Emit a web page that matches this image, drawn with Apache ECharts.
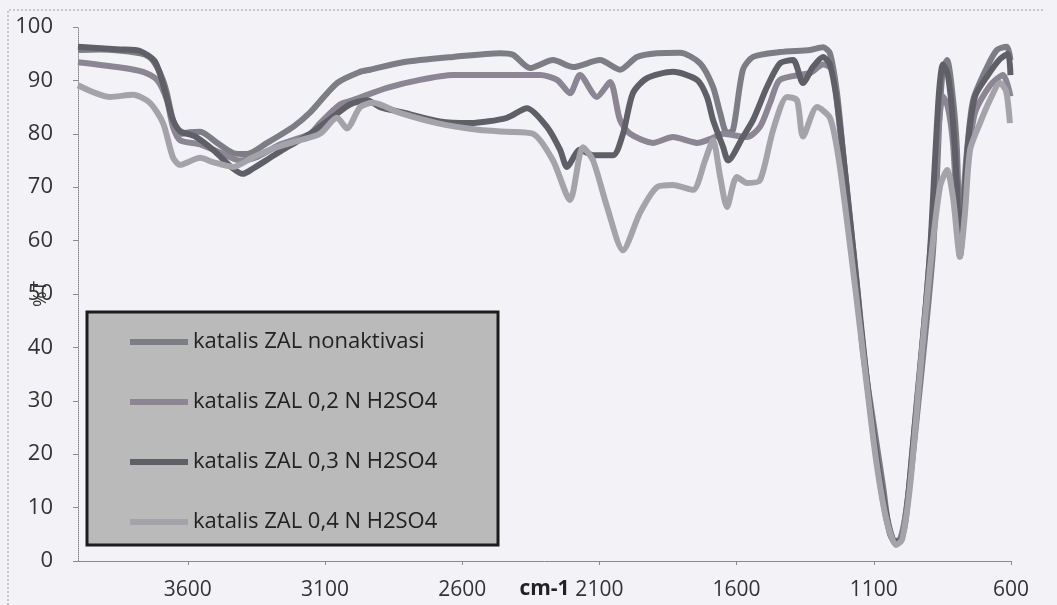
<!DOCTYPE html>
<html>
<head>
<meta charset="utf-8">
<script src="https://cdn.jsdelivr.net/npm/echarts@6/dist/echarts.min.js"></script>
<style>
html,body{margin:0;padding:0;background:#f3f3f7;}
#chart{width:1057px;height:605px;}
</style>
</head>
<body>
<div id="chart"></div>
<script>
const seriesNames = ['katalis ZAL nonaktivasi', 'katalis ZAL 0,2 N H2SO4', 'katalis ZAL 0,3 N H2SO4', 'katalis ZAL 0,4 N H2SO4'];
const xTickValues = [3600, 3100, 2600, 2100, 1600, 1100, 600];
const yTickMin = 0, yTickMax = 100, yTickStep = 10;

// [wavenumber cm-1, %T]
const nonaktivasi = [[4000,95.7],[3920,95.8],[3774,95.1],[3738,94.3],[3712,92.5],[3690,90],[3676,87.6],[3654,82.6],[3628,80],[3592,80.3],[3555,80.4],[3493,78.3],[3435,76.4],[3384,76.2],[3311,78.3],[3216,81.3],[3154,84],[3056,89.5],[2972,91.6],[2936,92],[2816,93.4],[2633,94.4],[2462,95.1],[2415,94.8],[2353,92.3],[2269,93.8],[2196,92.5],[2098,93.8],[2025,92],[1963,94.4],[1890,95.1],[1806,95.2],[1733,93.2],[1686,88.8],[1660,83.9],[1635,80.1],[1613,80.7],[1577,92],[1540,94.4],[1442,95.3],[1332,95.7],[1285,96.2],[1260,95.1],[1234,87.6],[1212,76.4],[1187,63.9],[1161,51.3],[1139,39],[1103,26.4],[1066,13.9],[1041,5],[1015,3.2],[994,5.5],[968,15],[943,27],[906,45.7],[884,58.2],[870,72],[859,85],[848,92],[833,93.8],[811,86.3],[797,77],[786,60],[771,70],[760,77],[738,86.3],[687,92.5],[651,95.7],[615,96.3],[602,93.8]];

const zal02 = [[4000,93.4],[3858,92.5],[3763,91.6],[3712,90.1],[3676,86.3],[3654,81.3],[3628,78.8],[3555,78],[3483,76.5],[3410,75],[3355,75.5],[3264,78],[3154,80],[3118,82],[3045,85.5],[2998,86.3],[2874,88.6],[2754,90.1],[2633,91],[2462,91],[2316,91],[2254,90.1],[2207,87.6],[2171,91],[2109,86.9],[2061,89.7],[2025,82.6],[1988,80],[1905,78.3],[1832,79.4],[1744,78.3],[1697,79],[1649,80],[1562,79.4],[1515,81.3],[1478,85.8],[1442,90.1],[1332,91.4],[1285,93],[1252,92],[1230,84],[1201,70],[1165,52],[1128,35],[1092,20],[1055,8],[1023,3.5],[1001,4.5],[975,12],[943,30],[910,48],[884,65],[866,80],[848,87],[830,85],[811,78],[793,63],[779,62],[760,74],[731,84],[677,89],[629,91],[602,87]];

const zal03 = [[4000,96.3],[3847,95.8],[3774,95.5],[3719,93.5],[3683,88],[3657,83],[3628,80.5],[3574,79.5],[3508,77],[3435,73.5],[3399,72.5],[3362,73.5],[3300,75.5],[3238,77.5],[3154,80],[3063,83.5],[3009,85.5],[2947,86.3],[2899,85],[2816,84],[2681,82.3],[2571,82],[2437,83],[2364,84.8],[2291,81.3],[2243,77],[2218,73.8],[2171,77],[2123,76],[2050,76],[2014,80],[1978,87.6],[1927,90.4],[1832,91.6],[1744,90.1],[1708,86.9],[1686,82.6],[1649,77.5],[1631,75],[1577,79.4],[1540,82.6],[1489,88.8],[1442,93.2],[1394,93.8],[1358,89.5],[1322,92.5],[1285,94.4],[1260,93],[1234,86],[1205,73],[1168,55],[1132,37],[1096,22],[1059,10],[1030,4],[1008,3.5],[986,7],[957,22],[924,40],[895,58],[877,75],[862,88],[848,93],[830,91],[811,82],[797,70],[786,57],[771,66],[757,78],[731,87],[684,91],[640,94],[611,95],[602,91]];

const zal04 = [[4000,89.1],[3883,86.9],[3799,87.3],[3738,85.8],[3690,82],[3654,75.6],[3628,74.2],[3555,75.5],[3508,74.7],[3435,73.8],[3362,75.6],[3275,77.5],[3191,78.8],[3118,80],[3056,83],[3020,81],[2972,85],[2925,85.8],[2827,83.9],[2692,82],[2535,80.7],[2437,80.4],[2342,80],[2269,75],[2207,67.6],[2160,77.5],[2123,75],[2072,66.3],[2014,58.2],[1952,65.2],[1890,70],[1832,70.4],[1759,69.5],[1715,75],[1686,78.8],[1660,72],[1635,66.3],[1599,71.9],[1562,70.8],[1515,71.3],[1467,80.7],[1416,86.9],[1380,86.3],[1358,79.5],[1307,85],[1260,83],[1230,76],[1201,65],[1165,50],[1128,34],[1092,19],[1055,8],[1019,3],[997,4],[968,14],[932,35],[895,55],[859,70],[833,73.2],[811,68],[786,57],[768,65],[749,77],[713,82],[677,86.3],[640,89.5],[618,88],[604,82]];

const seriesData = [nonaktivasi, zal02, zal03, zal04];
const seriesColors = ['#7d7d85', '#8b8594', '#5f5f67', '#a3a3a9'];

const chart = echarts.init(document.getElementById('chart'), null, {renderer: 'canvas'});
const labelFont = 'Open Sans';
chart.setOption({
  backgroundColor: '#f3f3f7',
  animation: false,
  grid: {left: 78, right: 46, top: 27, bottom: 44, containLabel: false},
  xAxis: {
    type: 'value',
    inverse: true,
    min: 600,
    max: 4000,
    name: 'cm-1',
    nameLocation: 'middle',
    nameGap: 18,
    nameMoveOverlap: false,
    nameTextStyle: {fontFamily: labelFont, fontSize: 21, fontWeight: 'bold', color: '#222'},
    splitLine: {show: false},
    axisLine: {show: true, lineStyle: {color: '#8a8a8a', width: 1}},
    axisTick: {show: true, customValues: xTickValues, length: 4, lineStyle: {color: '#8a8a8a'}},
    axisLabel: {customValues: xTickValues, formatter: v => String(v), margin: 19, fontFamily: labelFont, fontSize: 21, color: '#333'}
  },
  yAxis: {
    type: 'value',
    min: yTickMin,
    max: yTickMax,
    interval: yTickStep,
    name: '%T',
    nameLocation: 'middle',
    nameGap: 28,
    nameMoveOverlap: false,
    nameRotate: 90,
    nameTextStyle: {fontFamily: labelFont, fontSize: 19, color: '#333'},
    splitLine: {show: false},
    axisLine: {show: true, lineStyle: {color: '#8a8a8a', type: 'dotted', width: 1}},
    axisTick: {show: true, length: 5, lineStyle: {color: '#8a8a8a'}},
    axisLabel: {margin: 25, formatter: v => String(v), fontFamily: labelFont, fontSize: 22, color: '#333'}
  },
  legend: {
    orient: 'vertical',
    left: 130,
    top: 330,
    padding: 0,
    z: 10,
    itemGap: 36,
    itemWidth: 58,
    itemHeight: 6,
    icon: 'rect',
    textStyle: {fontFamily: labelFont, fontSize: 22, color: '#222', lineHeight: 24},
    data: seriesNames
  },
  graphic: [
    {type: 'polyline', z: 0, silent: true, shape: {points: [[8, 605], [8, 10], [1045, 10]]}, style: {fill: null, stroke: '#9a9a9a', lineWidth: 1, lineDash: [2, 2]}},
    {type: 'rect', z: 8, silent: true, shape: {x: 87, y: 312, width: 411, height: 233}, style: {fill: '#bababa', stroke: '#1c1c1c', lineWidth: 3}}
  ],
  series: seriesNames.map((n, i) => ({
    name: n,
    type: 'line',
    data: seriesData[i],
    showSymbol: false,
    smooth: 0.25,
    z: 2,
    lineStyle: {color: seriesColors[i], width: 6},
    itemStyle: {color: seriesColors[i]}
  }))
});
</script>
</body>
</html>
